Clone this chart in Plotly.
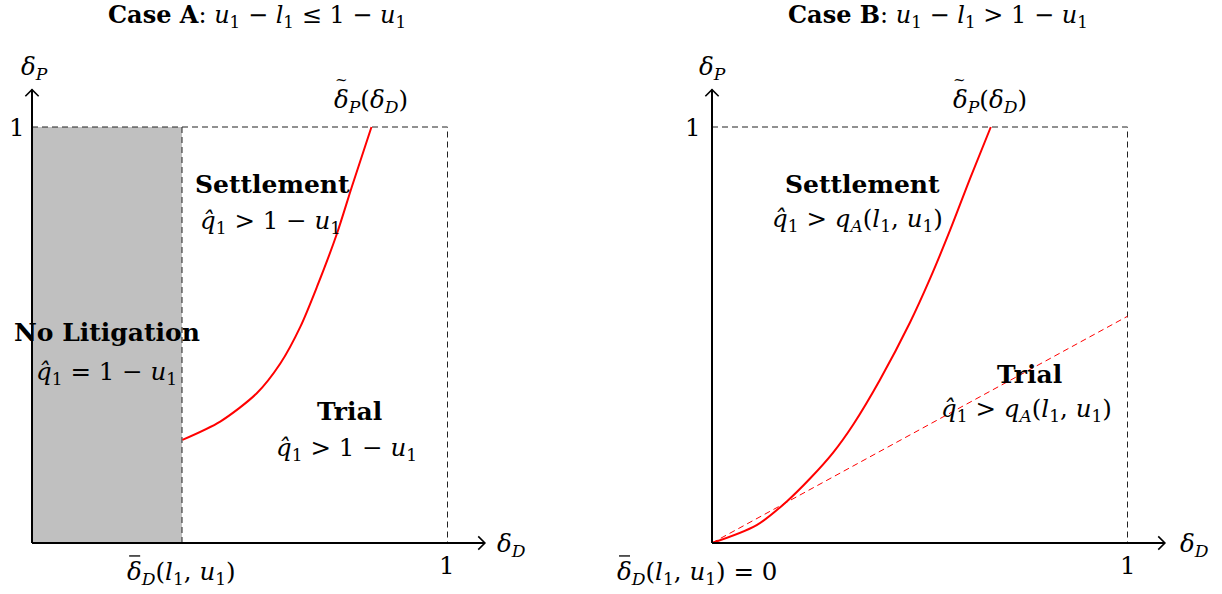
import plotly.graph_objects as go

# ---- data ----
# Case A: threshold curve delta_P tilde(delta_D), starting at delta_D bar
curveA_x = [0.362, 0.453, 0.541, 0.598, 0.646, 0.686, 0.734, 0.770, 0.817]
curveA_y = [0.248, 0.292, 0.360, 0.432, 0.520, 0.616, 0.744, 0.857, 1.0]
deltaD_bar_A = 0.361
# Case B
curveB_x = [0.0, 0.1075, 0.180, 0.236, 0.292, 0.340, 0.404, 0.4765, 0.525, 0.573, 0.621, 0.671]
curveB_y = [0.0, 0.043, 0.100, 0.155, 0.218, 0.285, 0.392, 0.530, 0.636, 0.752, 0.876, 1.0]
dashB_x = [0.0, 1.0]
dashB_y = [0.0, 0.545]

AX_LEN = 1.09   # axis length in data units
UNIT = 1.0

FONT = "DejaVu Serif"
FS = 24.5
FSB = 25

fig = go.Figure()

def add_line(xs, ys, xa, ya, color="black", width=1, dash=None, fill=None, fillcolor=None,
             shape="linear", smoothing=None):
    ln = dict(color=color, width=width, dash=dash, shape=shape)
    if smoothing is not None:
        ln["smoothing"] = smoothing
    fig.add_trace(go.Scatter(x=xs, y=ys, mode="lines", xaxis=xa, yaxis=ya,
                             line=ln, fill=fill, fillcolor=fillcolor, hoverinfo="skip",
                             showlegend=False))

# Panel A gray region
add_line([0, deltaD_bar_A, deltaD_bar_A, 0, 0], [0, 0, UNIT, UNIT, 0], "x", "y",
         color="rgba(0,0,0,0)", width=0, fill="toself", fillcolor="#c0c0c0")

DASH = "6px,4px"
for xa, ya in [("x", "y"), ("x2", "y2")]:
    add_line([0, UNIT, UNIT], [UNIT, UNIT, 0], xa, ya, dash=DASH, width=1, color="#222")
add_line([deltaD_bar_A, deltaD_bar_A], [0, UNIT], "x", "y", dash=DASH, width=1, color="#222")

# red dashed line panel B
add_line(dashB_x, dashB_y, "x2", "y2", color="red", width=1, dash=DASH)

# red curves
add_line(curveA_x, curveA_y, "x", "y", color="red", width=2, shape="spline", smoothing=0.8)
add_line(curveB_x, curveB_y, "x2", "y2", color="red", width=2, shape="spline", smoothing=0.9)

# axes with arrowheads
h = 0.016
for xa, ya in [("x", "y"), ("x2", "y2")]:
    add_line([0, AX_LEN], [0, 0], xa, ya, width=2)
    add_line([0, 0], [0, AX_LEN], xa, ya, width=2)
    add_line([AX_LEN - h, AX_LEN, AX_LEN - h], [h, 0, -h], xa, ya, width=1.6)
    add_line([-h, 0, h], [AX_LEN - h, AX_LEN, AX_LEN - h], xa, ya, width=1.6)

# ---- texts ----
def ann(x, y, text, xref, yref, size=FS, xanchor="center"):
    fig.add_annotation(x=x, y=y, xref=xref, yref=yref, text=text, showarrow=False,
                       font=dict(family=FONT, size=size, color="black"),
                       xanchor=xanchor, yanchor="middle")

dP = "<i>δ</i><sub><i>P</i></sub>"
dD = "<i>δ</i><sub><i>D</i></sub>"
dPt = "<i>δ</i><sub><i>P</i></sub>(<i>δ</i><sub><i>D</i></sub>)"
dDbar = "<i>δ</i><sub><i>D</i></sub>(<i>l</i><sub>1</sub>, <i>u</i><sub>1</sub>)"
q1 = "<i>q̂</i><sub>1</sub>"
u1 = "<i>u</i><sub>1</sub>"
l1 = "<i>l</i><sub>1</sub>"
qA = "<i>q</i><sub><i>A</i></sub>(" + l1 + ", " + u1 + ")"

pxu = 415.5
pyu = 416.0

def accent_tilde(xc, yc, xref, yref):
    # tilde over the leading delta of a label centred at (xc, yc)
    fig.add_annotation(x=xc - 30 / pxu, y=yc + 21 / pyu, xref=xref, yref=yref, text="~",
                       showarrow=False, font=dict(family=FONT, size=15, color="black"),
                       xanchor="center", yanchor="middle")

def accent_bar(x_left, yc, xref, yref):
    # overline over the leading delta of a label
    fig.add_shape(type="line", xref=xref, yref=yref,
                  x0=x_left + 2 / pxu, x1=x_left + 13 / pxu,
                  y0=yc + 17 / pyu, y1=yc + 17 / pyu,
                  line=dict(color="black", width=1.3))

# Panel A
ann(0.542, 1.268, "<b>Case A</b>: " + u1 + " − " + l1 + " ≤ 1 − " + u1, "x", "y", size=24)
ann(0.007, 1.142, dP, "x", "y")
ann(-0.036, 1.0, "1", "x", "y")
ann(0.816, 1.062, dPt, "x", "y")
accent_tilde(0.816, 1.062, "x", "y")
ann(0.578, 0.861, "<b>Settlement</b>", "x", "y", size=FSB)
ann(0.573, 0.772, q1 + " > 1 − " + u1, "x", "y")
ann(0.18, 0.505, "<b>No Litigation</b>", "x", "y", size=FSB)
ann(0.18, 0.409, q1 + " = 1 − " + u1, "x", "y")
ann(0.765, 0.317, "<b>Trial</b>", "x", "y", size=FSB)
ann(0.758, 0.226, q1 + " > 1 − " + u1, "x", "y")
ann(0.359, -0.072, dDbar, "x", "y")
accent_bar(0.359 - 54 / pxu, -0.072, "x", "y")
ann(0.999, -0.053, "1", "x", "y")
ann(1.155, -0.005, dD, "x", "y")

# Panel B
ann(0.544, 1.268, "<b>Case B</b>: " + u1 + " − " + l1 + " > 1 − " + u1, "x2", "y2", size=24)
ann(0.0, 1.142, dP, "x2", "y2")
ann(-0.046, 1.0, "1", "x2", "y2")
ann(0.669, 1.062, dPt, "x2", "y2")
accent_tilde(0.669, 1.062, "x2", "y2")
ann(0.361, 0.861, "<b>Settlement</b>", "x2", "y2", size=FSB)
ann(0.349, 0.776, q1 + " > " + qA, "x2", "y2")
ann(0.763, 0.404, "<b>Trial</b>", "x2", "y2", size=FSB)
ann(0.756, 0.320, q1 + " > " + qA, "x2", "y2")
ann(-0.036, -0.072, dDbar + " = 0", "x2", "y2")
accent_bar(-0.036 - 80 / pxu, -0.072, "x2", "y2")
ann(1.001, -0.053, "1", "x2", "y2")
ann(1.162, -0.005, dD, "x2", "y2")

W, H = 1222, 594
axis_common = dict(visible=False, showgrid=False, zeroline=False, fixedrange=True)
fig.update_layout(
    width=W, height=H,
    margin=dict(l=0, r=0, t=0, b=0),
    paper_bgcolor="white", plot_bgcolor="white",
    showlegend=False,
    xaxis=dict(domain=[0, 0.5], range=[-32 / pxu, (611 - 32) / pxu], **axis_common),
    yaxis=dict(domain=[0, 1], range=[-(H - 543) / pyu, 543 / pyu], **axis_common),
    xaxis2=dict(domain=[0.5, 1], range=[-(712 - 611) / pxu, (W - 712) / pxu], **axis_common),
    yaxis2=dict(domain=[0, 1], range=[-(H - 543) / pyu, 543 / pyu], anchor="x2", **axis_common),
)
fig.write_html("out.html", config={"displayModeBar": False},
               post_script="document.body.style.margin='0px';")
